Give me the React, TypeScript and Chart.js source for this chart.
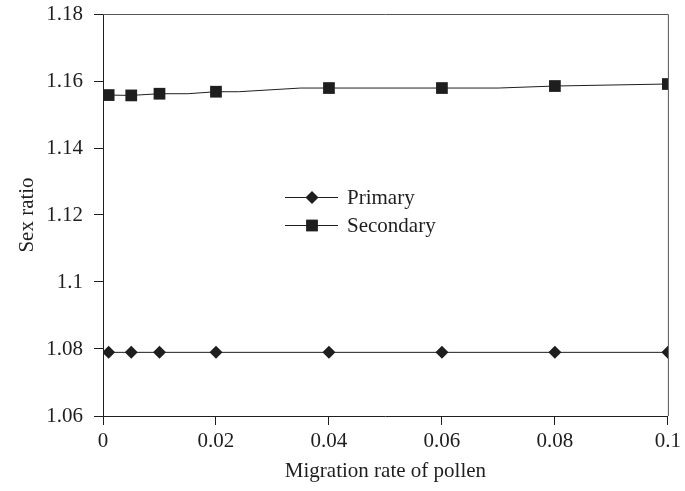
import React, { useEffect, useRef } from 'react';
import { Chart, registerables } from 'chart.js';

Chart.register(...registerables);

const xTicks = [0, 0.02, 0.04, 0.06, 0.08, 0.1];
const yTicks = [1.06, 1.08, 1.1, 1.12, 1.14, 1.16, 1.18];

const primaryLabel = 'Primary';
const primaryX = [0.001, 0.005, 0.01, 0.02, 0.04, 0.06, 0.08, 0.1];
const primaryY = [1.079, 1.079, 1.079, 1.079, 1.079, 1.079, 1.079, 1.079];

const secondaryLabel = 'Secondary';
const secondaryX = [0.001, 0.005, 0.01, 0.015, 0.02, 0.024, 0.035, 0.04, 0.06, 0.07, 0.08, 0.1];
const secondaryY = [1.1558, 1.1557, 1.1562, 1.1562, 1.1568, 1.1568, 1.1579, 1.1579, 1.1579, 1.1579, 1.1585, 1.1591];
const secondaryMarked = [true, true, true, false, true, false, false, true, true, false, true, true];

const xTitle = 'Migration rate of pollen';
const yTitle = 'Sex ratio';

const INK = '#1e1e1e';
const FONT = "'Liberation Serif', 'Times New Roman', serif";
const FS = 21;

function drawMarker(ctx: CanvasRenderingContext2D, kind: string, x: number, y: number) {
  ctx.beginPath();
  if (kind === 'diamond') {
    const r = 6.5;
    ctx.moveTo(x, y - r);
    ctx.lineTo(x + r, y);
    ctx.lineTo(x, y + r);
    ctx.lineTo(x - r, y);
    ctx.closePath();
  } else {
    const h = 5.9;
    ctx.rect(x - h, y - h, 2 * h, 2 * h);
  }
  ctx.fill();
}

const framePlugin = {
  id: 'frame',
  afterDraw(chart: any) {
    const { ctx, chartArea } = chart;
    ctx.save();
    ctx.strokeStyle = '#555';
    ctx.lineWidth = 1;
    ctx.beginPath();
    ctx.moveTo(chartArea.left, chartArea.top + 0.5);
    ctx.lineTo(chartArea.right + 0.5, chartArea.top + 0.5);
    ctx.lineTo(chartArea.right + 0.5, chartArea.bottom);
    ctx.stroke();
    ctx.restore();
  },
};

const legendPlugin = {
  id: 'innerLegend',
  afterDraw(chart: any) {
    const { ctx } = chart;
    const items = [
      { label: primaryLabel, kind: 'diamond', y: 197 },
      { label: secondaryLabel, kind: 'square', y: 225 },
    ];
    ctx.save();
    ctx.strokeStyle = INK;
    ctx.fillStyle = INK;
    ctx.lineWidth = 1;
    ctx.font = `${FS}px ${FONT}`;
    ctx.textBaseline = 'middle';
    ctx.textAlign = 'left';
    for (const it of items) {
      ctx.beginPath();
      ctx.moveTo(285, it.y + 0.5);
      ctx.lineTo(338, it.y + 0.5);
      ctx.stroke();
      drawMarker(ctx, it.kind, 312, it.y + 0.5);
      ctx.fillText(it.label, 347, it.y + 1);
    }
    ctx.restore();
  },
};

export default function App() {
  const ref = useRef<HTMLCanvasElement | null>(null);

  useEffect(() => {
    if (!ref.current) return;
    const chart = new Chart(ref.current, {
      type: 'scatter',
      data: {
        datasets: [
          {
            label: primaryLabel,
            data: primaryX.map((x, i) => ({ x, y: primaryY[i] })),
            showLine: true,
            borderColor: INK,
            backgroundColor: INK,
            borderWidth: 1,
            pointStyle: 'rectRot',
            pointRadius: 6.5,
            pointBorderWidth: 0,
          },
          {
            label: secondaryLabel,
            data: secondaryX.map((x, i) => ({ x, y: secondaryY[i] })),
            showLine: true,
            borderColor: INK,
            backgroundColor: INK,
            borderWidth: 1,
            pointStyle: 'rect',
            pointRadius: secondaryMarked.map((m) => (m ? 8.3 : 0)),
            pointBorderWidth: 0,
          },
        ],
      },
      options: {
        responsive: false,
        animation: false,
        layout: { padding: { top: 14, right: 16, left: 0, bottom: 0 } },
        plugins: {
          legend: { display: false },
          title: { display: false },
          tooltip: { enabled: false },
        },
        scales: {
          x: {
            type: 'linear',
            min: 0,
            max: 0.1,
            afterBuildTicks: (scale: any) => {
              scale.ticks = xTicks.map((v) => ({ value: v }));
            },
            afterFit: (scale: any) => {
              scale.height = 75;
            },
            ticks: {
              color: INK,
              font: { family: FONT, size: FS },
              padding: 4,
              maxRotation: 0,
              autoSkip: false,
              callback: (v: any) => String(Number(Number(v).toFixed(2))),
            },
            grid: { drawOnChartArea: false, drawTicks: true, tickLength: 9, color: INK },
            border: { display: true, color: INK, width: 1 },
            title: {
              display: true,
              text: xTitle,
              color: INK,
              font: { family: FONT, size: FS },
              padding: { top: 0, bottom: 7 },
            },
          },
          y: {
            type: 'linear',
            min: 1.06,
            max: 1.18,
            afterBuildTicks: (scale: any) => {
              scale.ticks = yTicks.map((v) => ({ value: v }));
            },
            afterFit: (scale: any) => {
              scale.width = 103;
              scale.paddingTop = 0;
              scale.paddingBottom = 0;
            },
            ticks: {
              color: INK,
              font: { family: FONT, size: FS },
              padding: 11,
              autoSkip: false,
              callback: (v: any) => String(Number(Number(v).toFixed(2))),
            },
            grid: { drawOnChartArea: false, drawTicks: true, tickLength: 9, color: INK },
            border: { display: true, color: INK, width: 1 },
            title: {
              display: true,
              text: yTitle,
              color: INK,
              font: { family: FONT, size: FS },
              padding: { top: 15, bottom: 0 },
            },
          },
        },
      },
      plugins: [framePlugin, legendPlugin],
    });
    return () => chart.destroy();
  }, []);

  return (
    <div style={{ position: 'absolute', left: 0, top: 0, width: 685, height: 491, background: '#fff' }}>
      <canvas ref={ref} width={685} height={491} />
    </div>
  );
}
